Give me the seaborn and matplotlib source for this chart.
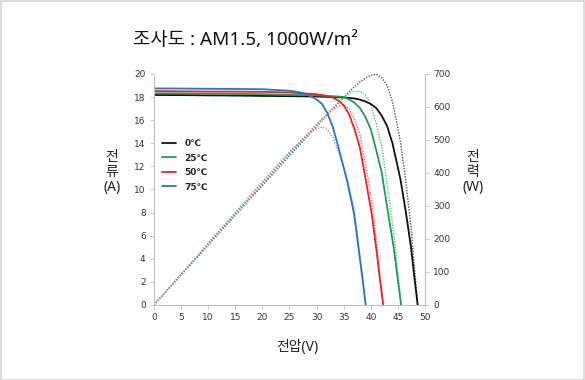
import matplotlib
matplotlib.use("Agg")
import matplotlib.pyplot as plt
import seaborn as sns
import numpy as np
import pandas as pd
from matplotlib.patches import Rectangle

# ---- data ----
labels = ["0℃", "25℃", "50℃", "75℃"]
colors = ["#111111", "#1e9e4f", "#e8232a", "#2b74be"]
p_colors = ["#555555", "#5cc07f", "#f06a6e", "#6fa3d6"]

v_0 = [0, 5, 10, 15, 20, 25, 30, 35, 37, 38, 39, 40, 41, 42, 43, 44, 45, 45.5, 46.5, 47.4, 48.1, 48.65]
i_0 = [18.18, 18.17, 18.15, 18.13, 18.1, 18.08, 18.05, 17.97, 17.88, 17.78, 17.62, 17.4, 17.05, 16.4, 15.5, 14.0, 11.9, 10.8, 7.94, 5.05, 2.16, 0.0]

v_25 = [0, 5, 10, 15, 20, 25, 30, 34, 35, 36, 37, 38, 39, 40, 41, 42, 43.2, 44.2, 45.0, 45.6]
i_25 = [18.33, 18.32, 18.3, 18.28, 18.25, 18.2, 18.15, 18.05, 18.0, 17.8, 17.5, 17.05, 16.3, 15.2, 13.4, 11.5, 7.94, 5.05, 2.16, 0.0]

v_50 = [0, 5, 10, 15, 20, 25, 30, 32, 33, 34, 35, 36, 37, 38, 39, 40.15, 40.96, 41.7, 42.3]
i_50 = [18.52, 18.5, 18.48, 18.47, 18.45, 18.4, 18.25, 18.1, 17.95, 17.7, 17.3, 16.5, 15.2, 13.6, 11.0, 7.94, 5.05, 2.16, 0.0]

v_75 = [0, 5, 10, 15, 20, 25, 27, 28, 29, 30, 31, 32, 33, 34, 35, 35.7, 36.9, 37.7, 38.5, 39.05]
i_75 = [18.75, 18.74, 18.72, 18.7, 18.68, 18.55, 18.4, 18.25, 18.05, 17.8, 17.4, 16.6, 15.4, 13.7, 11.9, 10.6, 7.94, 5.05, 2.16, 0.0]

volts = [v_0, v_25, v_50, v_75]
amps = [i_0, i_25, i_50, i_75]

x_ticks = [0, 5, 10, 15, 20, 25, 30, 35, 40, 45, 50]
yl_ticks = [0, 2, 4, 6, 8, 10, 12, 14, 16, 18, 20]
yr_ticks = [0, 100, 200, 300, 400, 500, 600, 700]

frames = []
for lab, v, i in zip(labels, volts, amps):
    df = pd.DataFrame({"V": v, "I": i})
    df["P"] = df["V"] * df["I"]
    df["T"] = lab
    frames.append(df)
data = pd.concat(frames, ignore_index=True)

sns.set_style("white")
plt.rcParams["font.family"] = ["Noto Sans", "Noto Sans CJK KR", "DejaVu Sans"]

fig = plt.figure(figsize=(5.85, 3.80), dpi=100)
ax = fig.add_axes([0.2632, 0.1974, 0.4633, 0.6079])
ax2 = ax.twinx()

sns.lineplot(data=data, x="V", y="P", hue="T", palette=p_colors,
             hue_order=labels, ax=ax2, legend=False, sort=False, estimator=None,
             linestyle=(0, (1, 1)), linewidth=1.0)
sns.lineplot(data=data, x="V", y="I", hue="T", palette=colors, hue_order=labels,
             ax=ax, sort=False, estimator=None, linewidth=1.3)

ax.set_zorder(ax2.get_zorder() + 1)
ax.patch.set_visible(False)

ax.set_xlim(0, 50)
ax.set_ylim(0, 20)
ax2.set_ylim(0, 700)
ax.set_xticks(x_ticks)
ax.set_yticks(yl_ticks)
ax2.set_yticks(yr_ticks)

tick_col = "#333333"
spine_col = "#bfbfbf"
for a in (ax, ax2):
    for s in a.spines.values():
        s.set_color(spine_col)
        s.set_linewidth(0.8)
    a.spines["top"].set_visible(False)
ax.spines["right"].set_visible(False)
ax2.spines["left"].set_visible(False)
ax2.spines["bottom"].set_visible(False)

ax.tick_params(axis="both", labelsize=6.5, colors=tick_col, length=3, width=0.6,
               direction="out", pad=3)
ax.tick_params(axis="both", color=spine_col)
ax.tick_params(axis="x", bottom=True)
ax.tick_params(axis="y", left=True)
ax2.tick_params(axis="y", labelsize=6.5, colors=tick_col, length=3, width=0.6,
                direction="out", pad=3, right=True)
ax2.tick_params(axis="y", color=spine_col)
for lab in ax.get_xticklabels() + ax.get_yticklabels() + ax2.get_yticklabels():
    lab.set_family(["DejaVu Sans"])

ax.set_xlabel("")
ax.set_ylabel("")
ax2.set_xlabel("")
ax2.set_ylabel("")

leg = ax.legend(loc="upper left", bbox_to_anchor=(0.005, 0.745), frameon=False,
                fontsize=6.5, handlelength=1.6, handletextpad=0.9, labelspacing=0.6,
                borderaxespad=0.3)
for t in leg.get_texts():
    t.set_fontweight("bold")
    t.set_family(["DejaVu Sans"])

fig.text(133 / 585, 1 - 40 / 380, "조사도 : AM1.5, 1000W/m²", fontsize=13.6,
         ha="left", va="center", color="#111111")

side_texts = [("전", 157), ("류", 172), ("(A)", 187)]
for s, yy in side_texts:
    fig.text(112 / 585, 1 - yy / 380, s, fontsize=10, ha="center", va="center",
             color="#222222")
side_texts_r = [("전", 157), ("력", 172), ("(W)", 187)]
for s, yy in side_texts_r:
    fig.text(473 / 585, 1 - yy / 380, s, fontsize=10, ha="center", va="center",
             color="#222222")
fig.text(297 / 585, 1 - 347 / 380, "전압(V)", fontsize=10, ha="center",
         va="center", color="#222222")

fig.patches.append(Rectangle((0.001, 0.001), 0.997, 0.996, transform=fig.transFigure,
                             fill=False, edgecolor="#d6d6d6", linewidth=1.2))

fig.savefig("out.png", dpi=100)
